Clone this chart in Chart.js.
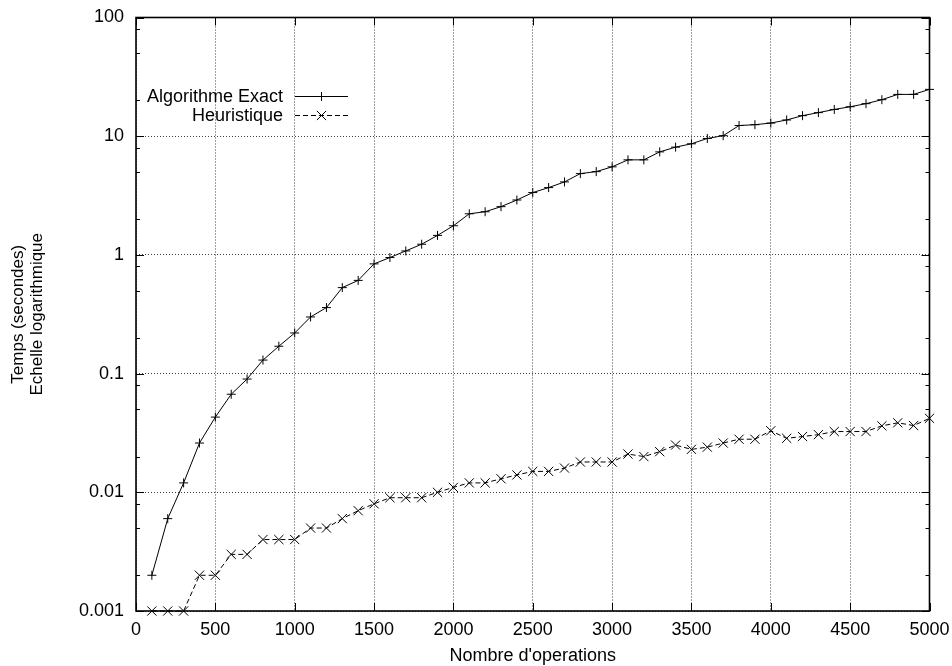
<!DOCTYPE html>
<html>
<head>
<meta charset="utf-8">
<script src="https://cdn.jsdelivr.net/npm/chart.js@4.4.1/dist/chart.umd.min.js"></script>
<style>
  html, body { margin: 0; padding: 0; background: #fff; }
  canvas { display: block; }
</style>
</head>
<body>
<canvas id="timingChart" width="952" height="666"></canvas>
<script>
const operations = [100, 200, 300, 400, 500, 600, 700, 800, 900, 1000,
    1100, 1200, 1300, 1400, 1500, 1600, 1700, 1800, 1900, 2000,
    2100, 2200, 2300, 2400, 2500, 2600, 2700, 2800, 2900, 3000,
    3100, 3200, 3300, 3400, 3500, 3600, 3700, 3800, 3900, 4000,
    4100, 4200, 4300, 4400, 4500, 4600, 4700, 4800, 4900, 5000];

const exactTimes = [0.002, 0.006, 0.012, 0.026, 0.043, 0.067, 0.09, 0.13, 0.17, 0.22,
    0.30, 0.36, 0.53, 0.61, 0.84, 0.95, 1.08, 1.23, 1.46, 1.76,
    2.22, 2.31, 2.55, 2.90, 3.35, 3.69, 4.12, 4.84, 5.03, 5.52,
    6.32, 6.32, 7.38, 8.09, 8.63, 9.57, 10.1, 12.3, 12.5, 12.9,
    13.7, 14.9, 15.8, 16.8, 17.7, 18.8, 20.3, 22.5, 22.5, 24.8];

const heuristicTimes = [0.001, 0.001, 0.001, 0.002, 0.002, 0.003, 0.003, 0.004, 0.004, 0.004,
    0.005, 0.005, 0.006, 0.007, 0.008, 0.009, 0.009, 0.009, 0.010, 0.011,
    0.012, 0.012, 0.013, 0.014, 0.015, 0.015, 0.016, 0.018, 0.018, 0.018,
    0.021, 0.020, 0.022, 0.025, 0.023, 0.024, 0.026, 0.028, 0.028, 0.033,
    0.0285, 0.0295, 0.0306, 0.0325, 0.0325, 0.0325, 0.0363, 0.0385, 0.0365, 0.042];

const yMajorTicks = [0.001, 0.01, 0.1, 1, 10, 100];
const yMinorSteps = [2, 5, 8];
const xTickStep = 500;

const seriesLabels = ['Algorithme Exact', 'Heuristique'];
const yTitle = ['Temps (secondes)', 'Echelle logarithmique'];
const xTitle = "Nombre d'operations";

const fontFamily = '"Liberation Sans", Arial, Helvetica, sans-serif';
const fontSize = 18;

const toPoints = (values) => operations.map((x, i) => ({ x: x, y: values[i] }));

// gnuplot style: inward ticks on all four sides, frame, legend inside the plot
const gnuplotFrame = {
    id: 'gnuplotFrame',
    beforeDatasetsDraw(chart) {
        const { ctx, chartArea: a, scales } = chart;
        const x = scales.x, y = scales.y;
        ctx.save();
        ctx.strokeStyle = '#000';
        ctx.lineWidth = 1;
        ctx.beginPath();
        x.ticks.forEach(t => {
            const px = Math.round(x.getPixelForValue(t.value)) + 0.5;
            ctx.moveTo(px, a.bottom); ctx.lineTo(px, a.bottom - 8);
            ctx.moveTo(px, a.top); ctx.lineTo(px, a.top + 8);
        });
        yMajorTicks.forEach(v => {
            const py = Math.round(y.getPixelForValue(v)) + 0.5;
            ctx.moveTo(a.left, py); ctx.lineTo(a.left + 8, py);
            ctx.moveTo(a.right, py); ctx.lineTo(a.right - 8, py);
        });
        yMajorTicks.slice(0, -1).forEach(base => {
            yMinorSteps.forEach(k => {
                const py = Math.round(y.getPixelForValue(base * k)) + 0.5;
                ctx.moveTo(a.left, py); ctx.lineTo(a.left + 4, py);
                ctx.moveTo(a.right, py); ctx.lineTo(a.right - 4, py);
            });
        });
        ctx.stroke();
        ctx.lineWidth = 1.6;
        ctx.strokeRect(a.left, a.top, a.right - a.left, a.bottom - a.top);
        ctx.restore();
    },
    afterDatasetsDraw(chart) {
        const { ctx } = chart;
        const textRight = 283, lineStart = 295, lineEnd = 348, rowY = [96, 115];
        ctx.save();
        ctx.font = fontSize + 'px ' + fontFamily;
        ctx.textAlign = 'right';
        ctx.textBaseline = 'middle';
        ctx.fillStyle = '#000';
        chart.data.datasets.forEach((ds, i) => {
            const yy = rowY[i];
            ctx.fillText(ds.label, textRight, yy + 1);
            ctx.strokeStyle = '#000';
            ctx.lineWidth = 1;
            ctx.setLineDash(ds.borderDash || []);
            ctx.beginPath();
            ctx.moveTo(lineStart, yy + 0.5);
            ctx.lineTo(lineEnd, yy + 0.5);
            ctx.stroke();
            ctx.setLineDash([]);
            Chart.helpers.drawPoint(ctx, {
                pointStyle: ds.pointStyle,
                radius: ds.pointRadius,
                borderWidth: 1
            }, (lineStart + lineEnd) / 2, yy + 0.5);
        });
        ctx.restore();
    }
};

new Chart(document.getElementById('timingChart'), {
    type: 'line',
    data: {
        datasets: [
            {
                label: seriesLabels[0],
                data: toPoints(exactTimes),
                borderColor: '#000',
                backgroundColor: '#000',
                borderWidth: 1,
                pointStyle: 'cross',
                pointRadius: 4.5,
                pointBorderWidth: 1,
                pointBorderColor: '#000',
                tension: 0,
                clip: false
            },
            {
                label: seriesLabels[1],
                data: toPoints(heuristicTimes),
                borderColor: '#000',
                backgroundColor: '#000',
                borderWidth: 1,
                borderDash: [5, 3],
                pointStyle: 'crossRot',
                pointRadius: 6.5,
                pointBorderWidth: 1,
                pointBorderColor: '#000',
                tension: 0,
                clip: false
            }
        ]
    },
    plugins: [gnuplotFrame],
    options: {
        responsive: false,
        animation: false,
        layout: { padding: { left: 0, top: 17.5, right: 22.5, bottom: 0 } },
        plugins: {
            legend: { display: false },
            tooltip: { enabled: false }
        },
        scales: {
            x: {
                type: 'linear',
                min: 0,
                max: 5000,
                afterFit: (scale) => {
                    scale.height = 55;
                    scale.paddingLeft = 0;
                    scale.paddingRight = 0;
                },
                ticks: {
                    stepSize: xTickStep,
                    color: '#000',
                    padding: 8,
                    maxRotation: 0,
                    font: { family: fontFamily, size: fontSize },
                    callback: (value) => String(value)
                },
                grid: {
                    drawTicks: false,
                    color: 'rgba(0,0,0,0.75)',
                    lineWidth: 1
                },
                border: { display: false, dash: [1, 2] },
                title: {
                    display: true,
                    text: xTitle,
                    color: '#000',
                    padding: { top: 0, bottom: 0 },
                    font: { family: fontFamily, size: fontSize, lineHeight: 1.1 }
                }
            },
            y: {
                type: 'logarithmic',
                min: 0.001,
                max: 100,
                afterFit: (scale) => {
                    scale.width = 136;
                    scale.paddingTop = 0;
                    scale.paddingBottom = 0;
                },
                afterBuildTicks: (scale) => {
                    scale.ticks = yMajorTicks.map(v => ({ value: v }));
                },
                ticks: {
                    color: '#000',
                    padding: 12,
                    font: { family: fontFamily, size: fontSize },
                    callback: (value) => String(value)
                },
                grid: {
                    drawTicks: false,
                    color: 'rgba(0,0,0,0.75)',
                    lineWidth: 1
                },
                border: { display: false, dash: [1, 2] },
                title: {
                    display: true,
                    text: yTitle,
                    color: '#000',
                    padding: { top: 9, bottom: 0 },
                    font: { family: fontFamily, size: fontSize - 1, lineHeight: 1.1 }
                }
            }
        }
    }
});
</script>
</body>
</html>
